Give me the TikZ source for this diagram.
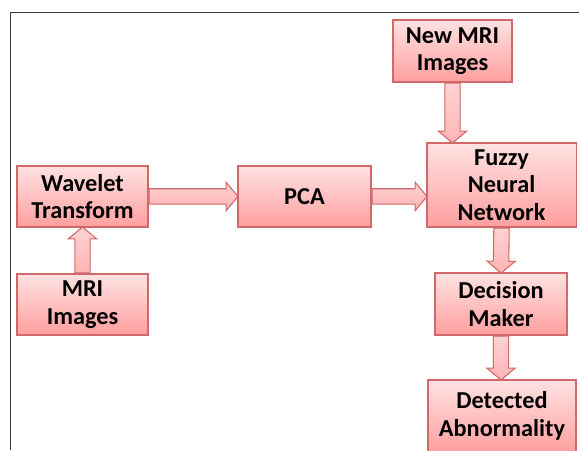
\documentclass[tikz,border=0pt]{standalone}
\usepackage{fontspec}
\setmainfont{Carlito}
\usetikzlibrary{shapes.arrows,calc,shadows}

\definecolor{boxtop}{HTML}{FFE2E2}
\definecolor{boxbot}{HTML}{FF9F9F}
\definecolor{boxline}{HTML}{D26868}
\definecolor{arrtop}{HTML}{FFD2D2}
\definecolor{arrbot}{HTML}{FFB4B4}
\definecolor{framegray}{HTML}{3A3A3A}

\tikzset{
  blockbox/.style={draw=boxline, line width=0.8pt, top color=boxtop, bottom color=boxbot,
    align=center, inner sep=0pt, font=\fontsize{18.3}{20.8}\selectfont\bfseries,
    drop shadow={opacity=0.25, shadow xshift=0.8pt, shadow yshift=-0.8pt}},
  blockarrow/.style={to path={
    let \p1=(\tikztostart), \p2=(\tikztotarget),
        \n1={veclen(\x2-\x1,\y2-\y1)}, \n2={atan2(\y2-\y1,\x2-\x1)}
    in node[single arrow, draw=boxline, line width=0.8pt, top color=arrtop, bottom color=arrbot,
      inner xsep=0pt, inner ysep=5.4pt, single arrow head extend=4.8pt,
      single arrow tip angle=100, minimum height=\n1, rotate=\n2, anchor=tail] at (\p1) {}
    (\tikztotarget)}}
}

\begin{document}
\begin{tikzpicture}
    % page and frame
    \clip (0,0) rectangle (15.32,11.907);
    \draw[framegray, line width=1.2pt] (0.278,0) -- (0.278,11.576) -- (15.32,11.576);

    % blocks
    \node[blockbox, minimum width=3.466cm, minimum height=1.614cm] (wt) at (2.183,6.708) {Wavelet\\Transform};
    \node[blockbox, minimum width=3.466cm, minimum height=1.614cm] (mri) at (2.183,3.850) {MRI\\Images};
    \node[blockbox, minimum width=3.519cm, minimum height=1.614cm] (pca) at (8.057,6.708) {PCA};
    \node[blockbox, minimum width=3.943cm, minimum height=2.223cm] (fnn) at (13.270,7.012) {Fuzzy\\Neural\\Network};
    \node[blockbox, minimum width=3.149cm, minimum height=1.640cm] (new) at (11.973,10.557) {New MRI\\Images};
    \node[blockbox, minimum width=3.493cm, minimum height=1.640cm] (dec) at (13.256,3.863) {Decision\\Maker};
    \node[blockbox, minimum width=3.916cm, minimum height=1.905cm] (det) at (13.283,0.900) {Detected\\Abnormality};

    % block arrows
    \path[blockarrow] (mri.north) to (wt.south);
    \path[blockarrow] (wt.east) to (pca.west);
    \path[blockarrow] (pca.east) to (pca.east -| fnn.west);
    \path[blockarrow] (new.south) to (new.south |- fnn.north);
    \path[blockarrow] (fnn.south) to (dec.north);
    \path[blockarrow] (dec.south) to (dec.south |- det.north);
\end{tikzpicture}
\end{document}
